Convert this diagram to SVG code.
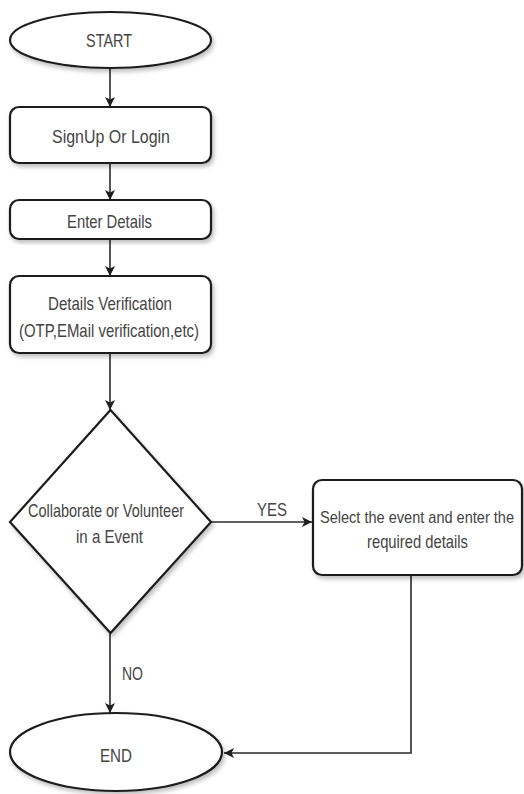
<svg xmlns="http://www.w3.org/2000/svg" width="524" height="794" viewBox="0 0 524 794">
<style>
.shape{fill:#fff;stroke:#1e1e1e;stroke-width:2.2}
.conn{fill:none;stroke:#2a2a2a;stroke-width:1.6}
text{font-family:"Liberation Sans",Arial,sans-serif;font-size:19px;fill:#444;text-anchor:start}
.sm{font-size:17px}
</style>
<defs>
<marker id="arr" viewBox="0 0 10 10" refX="10" refY="5" markerWidth="10" markerHeight="10" markerUnits="userSpaceOnUse" orient="auto">
<path d="M0,0 L10,5 L0,10 L2.5,5 Z" fill="#1e1e1e"/>
</marker>
<filter id="sh" x="-10%" y="-10%" width="125%" height="125%">
<feDropShadow dx="2" dy="3" stdDeviation="2" flood-color="#000" flood-opacity="0.25"/>
</filter>
</defs>
<rect width="524" height="794" fill="#fff"/>
<g id="connectors">
<line class="conn" x1="110" y1="68" x2="110" y2="107" marker-end="url(#arr)"/>
<line class="conn" x1="110" y1="163" x2="110" y2="200" marker-end="url(#arr)"/>
<line class="conn" x1="110" y1="239" x2="110" y2="276" marker-end="url(#arr)"/>
<line class="conn" x1="110" y1="353" x2="110" y2="410" marker-end="url(#arr)"/>
<line class="conn" x1="211" y1="522" x2="312" y2="522" marker-end="url(#arr)"/>
<line class="conn" x1="110" y1="633" x2="110" y2="713" marker-end="url(#arr)"/>
<polyline class="conn" points="411,575 411,753 224,753" marker-end="url(#arr)"/>
<text x="257" y="516" textLength="30" lengthAdjust="spacingAndGlyphs">YES</text>
<text x="122" y="680" textLength="21" lengthAdjust="spacingAndGlyphs">NO</text>
</g>
<g id="start">
<ellipse class="shape" filter="url(#sh)" cx="110.5" cy="40" rx="100.5" ry="28"/>
<text x="86" y="47" textLength="46" lengthAdjust="spacingAndGlyphs">START</text>
</g>
<g id="signup">
<rect class="shape" filter="url(#sh)" x="10" y="107" width="201" height="56" rx="9"/>
<text x="52" y="143" textLength="118" lengthAdjust="spacingAndGlyphs">SignUp  Or  Login</text>
</g>
<g id="enter-details">
<rect class="shape" filter="url(#sh)" x="10" y="200" width="201" height="39" rx="9"/>
<text x="67" y="228" textLength="85" lengthAdjust="spacingAndGlyphs">Enter Details</text>
</g>
<g id="verification">
<rect class="shape" filter="url(#sh)" x="10" y="276" width="201" height="77" rx="9"/>
<text x="48" y="310" textLength="124" lengthAdjust="spacingAndGlyphs">Details Verification</text>
<text x="19" y="337" textLength="180" lengthAdjust="spacingAndGlyphs">(OTP,EMail verification,etc)</text>
</g>
<g id="decision">
<polygon class="shape" filter="url(#sh)" points="110.5,410 211,522 110.5,633 10,522"/>
<text x="28" y="517" textLength="156" lengthAdjust="spacingAndGlyphs">Collaborate or Volunteer</text>
<text x="76" y="543" textLength="67" lengthAdjust="spacingAndGlyphs">in a Event</text>
</g>
<g id="select-event">
<rect class="shape" filter="url(#sh)" x="313" y="480" width="209" height="95" rx="9"/>
<text class="sm" x="320" y="523" textLength="194" lengthAdjust="spacingAndGlyphs">Select the event and enter the</text>
<text x="367" y="548" textLength="101" lengthAdjust="spacingAndGlyphs">required details</text>
</g>
<g id="end">
<ellipse class="shape" filter="url(#sh)" cx="116" cy="752" rx="106" ry="39"/>
<text x="100" y="762" textLength="32" lengthAdjust="spacingAndGlyphs">END</text>
</g>
</svg>
